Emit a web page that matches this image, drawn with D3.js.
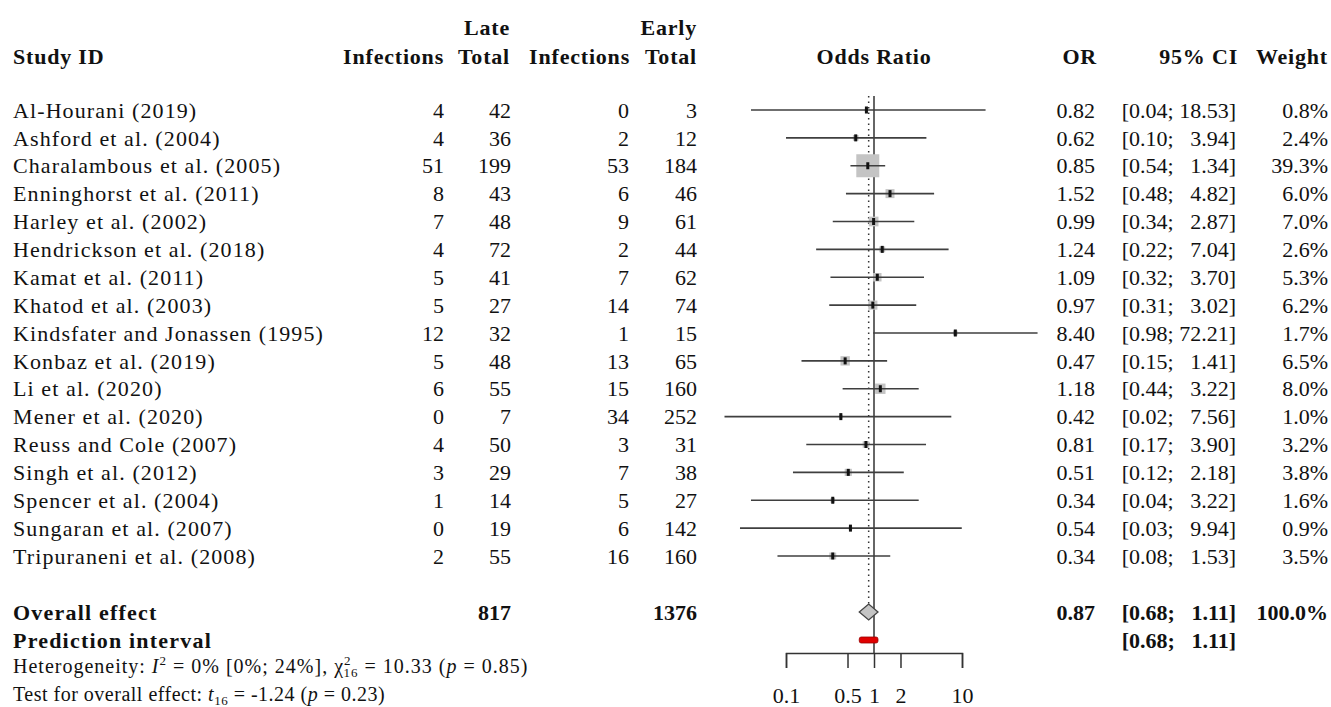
<!DOCTYPE html>
<html>
<head>
<meta charset="utf-8">
<script src="https://cdn.jsdelivr.net/npm/d3@7"></script>
<style>
body { margin: 0; background: #fff; }
text { font-family: "Liberation Serif", serif; fill: #111; white-space: pre; }
.hd { font-weight: bold; letter-spacing: 0.8px; }
.name { letter-spacing: 1.1px; }
</style>
</head>
<body>
<div id="chart"></div>
<script>
// study level data
var studies = ["Al-Hourani (2019)", "Ashford et al. (2004)", "Charalambous et al. (2005)",
    "Enninghorst et al. (2011)", "Harley et al. (2002)", "Hendrickson et al. (2018)",
    "Kamat et al. (2011)", "Khatod et al. (2003)", "Kindsfater and Jonassen (1995)",
    "Konbaz et al. (2019)", "Li et al. (2020)", "Mener et al. (2020)", "Reuss and Cole (2007)",
    "Singh et al. (2012)", "Spencer et al. (2004)", "Sungaran et al. (2007)", "Tripuraneni et al. (2008)"];
var lateInf  = [4, 4, 51, 8, 7, 4, 5, 5, 12, 5, 6, 0, 4, 3, 1, 0, 2];
var lateTot  = [42, 36, 199, 43, 48, 72, 41, 27, 32, 48, 55, 7, 50, 29, 14, 19, 55];
var earlyInf = [0, 2, 53, 6, 9, 2, 7, 14, 1, 13, 15, 34, 3, 7, 5, 6, 16];
var earlyTot = [3, 12, 184, 46, 61, 44, 62, 74, 15, 65, 160, 252, 31, 38, 27, 142, 160];
var orVal    = [0.82, 0.62, 0.85, 1.52, 0.99, 1.24, 1.09, 0.97, 8.40, 0.47, 1.18, 0.42, 0.81, 0.51, 0.34, 0.54, 0.34];
var ciLow    = [0.04, 0.10, 0.54, 0.48, 0.34, 0.22, 0.32, 0.31, 0.98, 0.15, 0.44, 0.02, 0.17, 0.12, 0.04, 0.03, 0.08];
var ciHigh   = [18.53, 3.94, 1.34, 4.82, 2.87, 7.04, 3.70, 3.02, 72.21, 1.41, 3.22, 7.56, 3.90, 2.18, 3.22, 9.94, 1.53];
var weight   = [0.8, 2.4, 39.3, 6.0, 7.0, 2.6, 5.3, 6.2, 1.7, 6.5, 8.0, 1.0, 3.2, 3.8, 1.6, 0.9, 3.5];

// pooled
var overallOR = 0.87, overallLow = 0.68, overallHigh = 1.11;
var predLow = 0.68, predHigh = 1.11;
var totalLate = 817, totalEarly = 1376;
var axisTicks = [0.1, 0.5, 1, 2, 10];

var svg = d3.select("#chart").append("svg")
    .attr("width", 1331)
    .attr("height", 707);

var x = d3.scaleLog().domain([0.1, 10]).range([786, 962]);
var y = d3.scalePoint().domain(studies).range([110, 556]);
var boxSize = d3.scaleSqrt().domain([0, d3.max(weight)]).range([0, 23]);

var fs = "22px";

function fmtCI(lo, hi) {
    var h = hi.toFixed(2);
    if (hi < 10) h = "\u2007" + h;
    return "[" + lo.toFixed(2) + "; " + h + "]";
}

// headers
function head(txt, xp, yp, anchor) {
    svg.append("text").attr("class", "hd")
        .attr("x", xp).attr("y", yp).attr("dy", "0.35em")
        .attr("text-anchor", anchor)
        .style("font-size", "22px")
        .text(txt);
}
head("Late", 510, 27, "end");
head("Early", 697, 27, "end");
head("Study ID", 13, 56, "start");
head("Infections", 444, 56, "end");
head("Total", 510, 56, "end");
head("Infections", 630, 56, "end");
head("Total", 697, 56, "end");
head("Odds Ratio", 874, 56, "middle");
head("OR", 1097, 56, "end");
head("95% CI", 1238, 56, "end");
head("Weight", 1328, 56, "end");

// table columns
var cols = [
    {vals: studies, x: 13, anchor: "start", cls: "name"},
    {vals: lateInf, x: 444, anchor: "end"},
    {vals: lateTot, x: 511, anchor: "end"},
    {vals: earlyInf, x: 629, anchor: "end"},
    {vals: earlyTot, x: 697, anchor: "end"},
    {vals: orVal.map(function(d) { return d.toFixed(2); }), x: 1095, anchor: "end"},
    {vals: ciLow.map(function(d, i) { return fmtCI(d, ciHigh[i]); }), x: 1236, anchor: "end"},
    {vals: weight.map(function(d) { return d.toFixed(1) + "%"; }), x: 1328, anchor: "end"}
];

cols.forEach(function(c) {
    svg.append("g").selectAll("text")
        .data(c.vals)
        .enter().append("text")
        .attr("class", c.cls || null)
        .attr("x", c.x)
        .attr("y", function(d, i) { return y(studies[i]); })
        .attr("dy", "0.35em")
        .attr("text-anchor", c.anchor)
        .style("font-size", fs)
        .text(function(d) { return d; });
});

// reference lines
var yTop = 96, yAxis = 653;
svg.append("line")
    .attr("x1", x(1)).attr("x2", x(1))
    .attr("y1", yTop).attr("y2", yAxis)
    .attr("stroke", "#333").attr("stroke-width", 1.5);
svg.append("line")
    .attr("x1", x(overallOR)).attr("x2", x(overallOR))
    .attr("y1", yTop).attr("y2", 605)
    .attr("stroke", "#333").attr("stroke-width", 1.5)
    .attr("stroke-dasharray", "1.5,4");

// boxes
var plot = svg.append("g");
plot.selectAll("rect.box")
    .data(studies)
    .enter().append("rect")
    .attr("class", "box")
    .attr("x", function(d, i) { return x(orVal[i]) - boxSize(weight[i]) / 2; })
    .attr("y", function(d, i) { return y(d) - boxSize(weight[i]) / 2; })
    .attr("width", function(d, i) { return boxSize(weight[i]); })
    .attr("height", function(d, i) { return boxSize(weight[i]); })
    .attr("fill", "#c4c4c4");

// ci lines
plot.selectAll("line.ci")
    .data(studies)
    .enter().append("line")
    .attr("class", "ci")
    .attr("x1", function(d, i) { return x(ciLow[i]); })
    .attr("x2", function(d, i) { return x(ciHigh[i]); })
    .attr("y1", function(d) { return y(d); })
    .attr("y2", function(d) { return y(d); })
    .attr("stroke", "#3f3f3f").attr("stroke-width", 1.6);

// point estimates
plot.selectAll("rect.pt")
    .data(studies)
    .enter().append("rect")
    .attr("class", "pt")
    .attr("x", function(d, i) { return x(orVal[i]) - 1.5; })
    .attr("y", function(d) { return y(d) - 3.5; })
    .attr("width", 3).attr("height", 7)
    .attr("fill", "#111");

// overall diamond
var yOv = 612, yPred = 640;
svg.append("path")
    .attr("d", "M" + x(overallLow) + "," + yOv +
        "L" + x(overallOR) + "," + (yOv - 8) +
        "L" + x(overallHigh) + "," + yOv +
        "L" + x(overallOR) + "," + (yOv + 8) + "Z")
    .attr("fill", "#c4c4c4").attr("stroke", "#444").attr("stroke-width", 1.3);

// prediction interval
svg.append("rect")
    .attr("x", x(predLow)).attr("width", x(predHigh) - x(predLow))
    .attr("y", yPred - 3).attr("height", 6)
    .attr("rx", 2)
    .attr("fill", "#e00000").attr("stroke", "#900").attr("stroke-width", 0.8);

// axis
var xAxis = d3.axisBottom(x)
    .tickValues(axisTicks)
    .tickFormat(function(d) { return d; })
    .tickSize(15)
    .tickSizeOuter(15)
    .tickPadding(19);
var ax = svg.append("g")
    .attr("transform", "translate(0," + yAxis + ")")
    .call(xAxis);
ax.select(".domain").attr("stroke", "#333").attr("stroke-width", 1.5);
ax.selectAll(".tick line").attr("stroke", "#333").attr("stroke-width", 1.5);
ax.selectAll(".tick text")
    .style("font-family", "'Liberation Serif', serif")
    .style("font-size", "22px")
    .attr("fill", "#111");

// summary rows
function bold(txt, xp, yp, anchor, spacing) {
    svg.append("text").attr("class", "hd")
        .attr("x", xp).attr("y", yp).attr("dy", "0.35em")
        .attr("text-anchor", anchor)
        .style("font-size", fs)
        .style("letter-spacing", spacing || "0px")
        .text(txt);
}
bold("Overall effect", 13, yOv, "start", "1.2px");
bold(totalLate, 511, yOv, "end");
bold(totalEarly, 697, yOv, "end");
bold(overallOR.toFixed(2), 1095, yOv, "end");
bold(fmtCI(overallLow, overallHigh), 1236, yOv, "end");
bold("100.0%", 1328, yOv, "end");
bold("Prediction interval", 13, yPred, "start", "1.2px");
bold(fmtCI(predLow, predHigh), 1236, yPred, "end");

// heterogeneity
var het = svg.append("text").attr("x", 13).attr("y", 673)
    .style("font-size", "20px").style("letter-spacing", "1px");
het.append("tspan").text("Heterogeneity: ");
het.append("tspan").style("font-style", "italic").text("I");
het.append("tspan").attr("dy", -8).style("font-size", "13px").text("2");
het.append("tspan").attr("dy", 8).text(" = 0% [0%; 24%], \u03c7");
het.append("tspan").attr("dy", -8).style("font-size", "13px").text("2");
het.append("tspan").attr("dx", -8).attr("dy", 12).style("font-size", "13px").text("16");
het.append("tspan").attr("dy", -4).text(" = 10.33 (");
het.append("tspan").style("font-style", "italic").text("p");
het.append("tspan").text(" = 0.85)");

var tst = svg.append("text").attr("x", 13).attr("y", 701)
    .style("font-size", "20px").style("letter-spacing", "0.5px");
tst.append("tspan").text("Test for overall effect: ");
tst.append("tspan").style("font-style", "italic").text("t");
tst.append("tspan").attr("dy", 4).style("font-size", "13px").text("16");
tst.append("tspan").attr("dy", -4).text(" = -1.24 (");
tst.append("tspan").style("font-style", "italic").text("p");
tst.append("tspan").text(" = 0.23)");
</script>
</body>
</html>
